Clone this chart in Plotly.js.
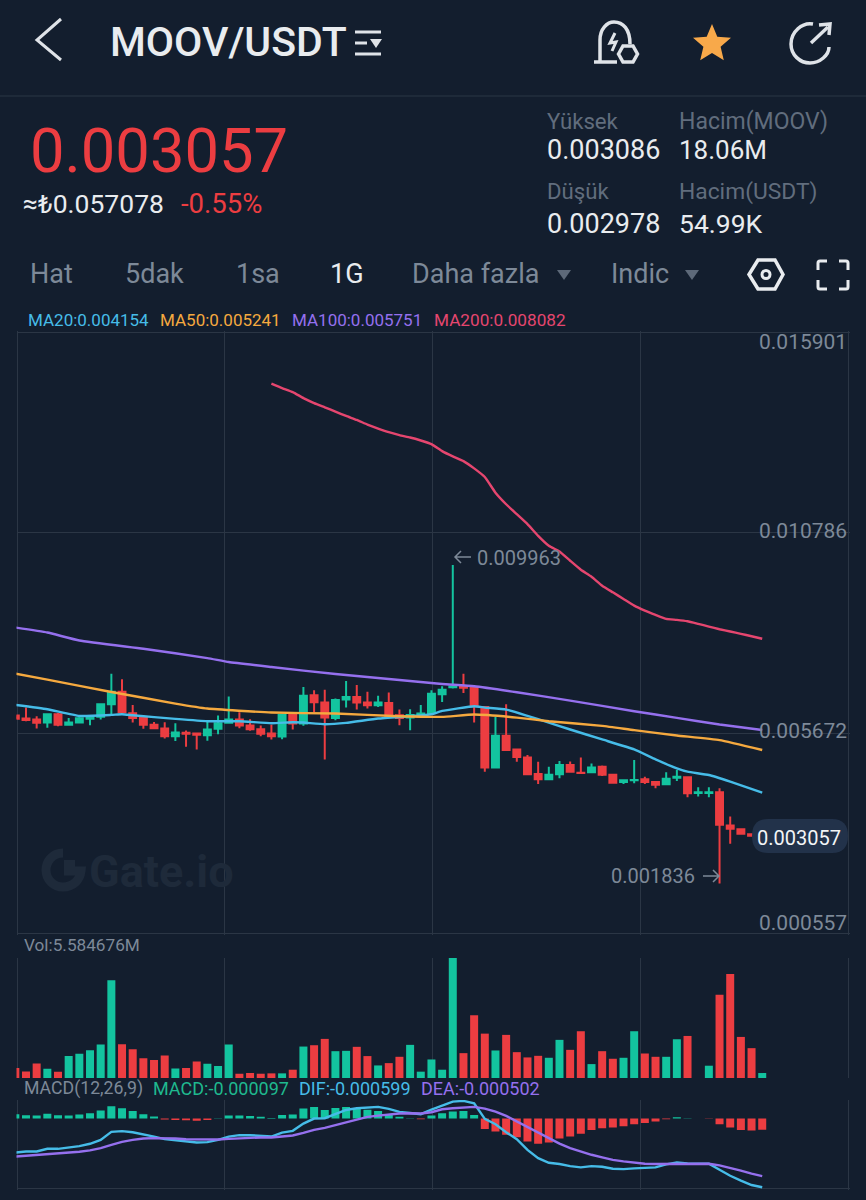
<!DOCTYPE html>
<html><head><meta charset="utf-8">
<script src="https://cdn.plot.ly/plotly-3.0.1.min.js"></script>
<style>html,body{margin:0;padding:0;background:#131e2e;overflow:hidden}#chart{width:866px;height:1200px}</style>
</head><body><div id="chart"></div>
<script>
// Prices are in millionths of a USDT, volumes in millions of MOOV.
const open = [6122,6045,6020,5943,6155,5884,5943,6037,6088,6410,6732,6181,6071,5884,5791,5596,5681,5664,5621,5782,5935,6020,5867,5774,5664,5587,6138,5918,6639,6452,6062,6529,6596,6452,6384,6444,6130,6071,6105,6189,6664,6842,6868,6834,6342,4798,5604,5256,5053,4629,4493,4620,4858,4663,4671,4815,4612,4425,4468,4493,4425,4366,4536,4544,4145,4145,4162,3315,3221,3094,3040];
const close = [6037,6011,5935,6155,5884,5943,6054,6096,6410,6732,6206,6062,5884,5799,5596,5689,5655,5630,5765,5926,6020,5867,5774,5655,5596,6138,5918,6630,6461,6071,6520,6596,6452,6384,6452,6113,6062,6138,6172,6681,6783,6860,6834,6359,4798,5604,5239,5061,4620,4493,4612,4858,4688,4655,4798,4612,4408,4468,4476,4425,4357,4510,4561,4137,4162,4162,3331,3230,3102,3052,3057];
const high = [6122,6325,6105,6155,6189,6062,6122,6122,6410,7190,7046,6393,6130,5960,5952,5926,5740,5672,5977,6122,6605,6206,6028,5867,5884,6138,6155,6851,6766,6783,6554,7003,6902,6732,6630,6707,6274,6283,6393,6766,6868,9963,7190,6834,6342,6087,6410,5256,5112,4943,4815,4960,4951,5053,4900,4849,4620,4493,4985,4561,4434,4671,4731,4561,4290,4290,4264,3543,3221,3094,3086];
const low = [6037,5977,5791,5808,5850,5859,5935,5876,6020,6155,6189,5943,5782,5782,5536,5469,5324,5257,5477,5647,5935,5799,5731,5596,5511,5519,5765,5859,6206,5002,6003,6325,6274,6300,6342,6071,5876,5748,6071,6172,6469,6810,6698,5943,4688,4798,5239,4943,4603,4374,4493,4519,4671,4646,4663,4578,4408,4374,4391,4374,4264,4366,4451,4035,4052,4035,1836,2848,3102,3052,3030];
const volume = [11.2,7.4,16.4,10.4,7.1,24.6,27.2,31.2,37.6,109.7,37.9,32.4,22.3,20.1,25.3,10.8,11.2,18.6,16.0,13.4,37.6,4.8,5.6,4.8,5.2,5.2,9.3,35.3,36.8,43.9,30.1,30.5,35.0,24.6,14.1,16.7,23.8,37.2,7.1,20.8,9.3,134.7,27.9,70.3,49.8,30.9,48.4,29.0,23.1,24.9,22.7,42.8,31.6,52.5,15.6,30.1,21.6,22.7,52.5,27.5,23.8,23.8,43.5,47.2,0,13.8,93.4,116.8,46.1,33.5,5.58];
const macdHist = [38,29,26,41,29,26,35,46,70,107,90,67,38,17,-9,-12,-15,-20,-12,2,26,26,23,15,6,32,35,87,102,75,93,102,87,78,67,38,15,3,-6,26,46,61,67,32,-90,-113,-142,-162,-200,-220,-209,-174,-157,-133,-99,-84,-78,-67,-49,-38,-26,-6,12,2,1,-1,-49,-78,-99,-104,-97];
const dif = [-296,-287,-287,-264,-264,-255,-241,-220,-186,-116,-110,-119,-136,-157,-180,-191,-200,-209,-206,-186,-157,-145,-145,-151,-157,-122,-107,-44,0,3,38,75,90,96,102,84,58,49,38,78,113,148,154,133,-3,-49,-119,-180,-273,-345,-386,-397,-415,-426,-415,-421,-438,-441,-435,-429,-426,-400,-383,-392,-394,-394,-447,-499,-542,-580,-599];
const dea = [-331,-325,-319,-310,-305,-296,-290,-278,-258,-229,-203,-186,-174,-171,-171,-174,-180,-183,-186,-183,-177,-171,-168,-165,-165,-157,-148,-125,-99,-81,-58,-35,-12,15,26,38,44,46,44,55,81,90,96,102,87,61,23,-26,-70,-119,-171,-218,-258,-290,-316,-339,-360,-374,-386,-394,-397,-397,-397,-394,-394,-394,-409,-429,-455,-481,-502];
const ma200Start = 24;
const ma200 = [14594,14482,14380,14227,14100,13991,13882,13770,13668,13551,13449,13355,13279,13220,13144,13050,12872,12737,12617,12431,12210,11811,11516,11261,11007,10709,10455,10310,10073,9844,9666,9437,9267,9099,8928,8801,8692,8590,8565,8529,8463,8394,8325,8267,8208,8147,8082];
const ma100At = [0,3,6,12,18,20,24,30,36,40,43,47,52,58,62,66,70];
const ma100 = [8369,8241,8038,7826,7589,7487,7360,7182,7029,6927,6868,6715,6503,6232,6062,5892,5751];
const ma50At = [0,3,9,15,18,24,30,36,40,43,47,50,55,58,62,66,70];
const ma50 = [7190,7037,6724,6427,6300,6198,6172,6105,6088,6147,6070,5977,5858,5748,5613,5494,5241];
const ma20At = [0,3,6,9,10,11,15,18,21,24,26,27,29,31,34,37,39,40,43,44,46,48,50,52,55,58,60,62,63,65,67,70];
const ma20 = [6393,6283,6113,6138,6155,6130,6037,5977,5977,5926,5952,5943,5901,5935,6045,6105,6155,6240,6359,6325,6274,6113,5943,5765,5511,5256,5002,4773,4688,4603,4434,4154];
const priceTicks = [15901,10786,5672,557];
const priceTickLabels = ['0.015901','0.010786','0.005672','0.000557'];

const UP = '#13c49f', DOWN = '#ec3d41', BG = '#131e2e', GRID = '#2b3645';
const BLUE = '#46bce8', ORANGE = '#f5a93f', PURPLE = '#9570ee', PINK = '#e5466f';
const GRAY = '#7d8998', DIM = '#616d7d', WHITE = '#e9ecef';
const W = 866, H = 1200;
const fx = p => p / W, fy = p => 1 - p / H;
const idx = open.map((_, i) => i);

function ln(name, x, y, color) {
  return {type:'scatter', mode:'lines', name, x, y, yaxis:'y', xaxis:'x', hoverinfo:'skip',
    line:{color, width:2.4, shape:'spline', smoothing:0.4}, showlegend:false};
}
const traces = [
  {type:'candlestick', name:'MOOV/USDT', x:idx, open, high, low, close, xaxis:'x', yaxis:'y', hoverinfo:'skip', showlegend:false,
   whiskerwidth:0,
   increasing:{line:{color:UP, width:2}, fillcolor:UP},
   decreasing:{line:{color:DOWN, width:2}, fillcolor:DOWN}},
  ln('MA20', ma20At, ma20, BLUE),
  ln('MA50', ma50At, ma50, ORANGE),
  ln('MA100', ma100At, ma100, PURPLE),
  ln('MA200', ma200.map((_, i) => i + ma200Start), ma200, PINK),
  {type:'bar', name:'Vol', x:idx, y:volume, xaxis:'x', yaxis:'y2', width:0.75, hoverinfo:'skip', showlegend:false,
   marker:{color:idx.map(i => close[i] >= open[i] ? UP : DOWN)}},
  {type:'bar', name:'MACD', x:idx, y:macdHist, xaxis:'x', yaxis:'y3', width:0.75, hoverinfo:'skip', showlegend:false,
   marker:{color:macdHist.map(v => v >= 0 ? UP : DOWN)}},
  {type:'scatter', mode:'lines', name:'DIF', x:idx, y:dif, xaxis:'x', yaxis:'y3', hoverinfo:'skip', showlegend:false, line:{color:BLUE, width:2.4}},
  {type:'scatter', mode:'lines', name:'DEA', x:idx, y:dea, xaxis:'x', yaxis:'y3', hoverinfo:'skip', showlegend:false, line:{color:PURPLE, width:2.4}}
];

const FONT = 'Roboto, "Noto Sans", sans-serif';
const T = (text, x, y, size, color, anchor='left', weight=400) => ({
  text, x:fx(x), y:fy(y), xref:'paper', yref:'paper', xanchor:anchor, yanchor:'middle',
  showarrow:false, borderpad:0, font:{family:FONT, size, color, weight}});

const annotations = [
  T('MOOV/USDT', 109, 42, 41, WHITE, 'left', 500),
  T('0.003057', 28.5, 151, 61.5, DOWN),
  T('≈₺0.057078', 22, 203, 26.5, WHITE),
  T('-0.55%', 180, 203, 27.5, DOWN),
  T('Yüksek', 546, 121, 22.2, DIM),
  T('0.003086', 546, 150, 27, WHITE),
  T('Hacim(MOOV)', 677.5, 121, 23, DIM),
  T('18.06M', 677.5, 150, 26, WHITE),
  T('Düşük', 546, 191, 22.2, DIM),
  T('0.002978', 546, 224, 27, WHITE),
  T('Hacim(USDT)', 677.5, 191, 22.8, DIM),
  T('54.99K', 677.5, 224, 26.5, WHITE),
  T('Hat', 28.5, 274, 27, GRAY),
  T('5dak', 123.5, 274, 27, GRAY),
  T('1sa', 234.5, 274, 27, GRAY),
  T('1G', 328.5, 274, 27, WHITE),
  T('Daha fazla', 410.5, 274, 27, GRAY),
  T('Indic', 609.5, 274, 27, GRAY),
  T('MA20:0.004154', 27, 320, 17, BLUE),
  T('MA50:0.005241', 159, 320, 17, ORANGE),
  T('MA100:0.005751', 291, 320, 17, PURPLE),
  T('MA200:0.008082', 433, 320, 17.2, PINK),
  T(priceTickLabels[0], 848, 342, 21, GRAY, 'right'),
  T(priceTickLabels[1], 848, 531, 21, GRAY, 'right'),
  T(priceTickLabels[2], 848, 731, 21, GRAY, 'right'),
  T(priceTickLabels[3], 848, 923, 21, GRAY, 'right'),
  T('0.009963', 476, 558, 20, GRAY),
  T('0.001836', 696, 876, 20, GRAY, 'right'),
  T('0.003057', 799, 838, 20, '#f3f5f7', 'center'),
  T('Gate.io', 88, 871, 45, '#1e2a3a', 'left', 700),
  T('Vol:5.584676M', 23, 945, 17.2, GRAY),
  T('MACD(12,26,9)', 23, 1088, 17.7, GRAY),
  T('MACD:-0.000097', 152, 1088, 18, '#1fb98f'),
  T('DIF:-0.000599', 298, 1088, 18, BLUE),
  T('DEA:-0.000502', 420, 1088, 18, PURPLE)
];

function path(d) { // px path string -> paper path string
  return d.replace(/([MLCQZ])([^MLCQZ]*)/g, (m, c, a) => {
    const n = a.trim().split(/[\s,]+/).filter(Boolean).map(Number);
    return c + n.map((v, i) => i % 2 ? fy(v) : fx(v)).join(' ');
  });
}
const S = (d, color=WHITE, width=3) => ({type:'path', xref:'paper', yref:'paper', path:path(d), line:{color, width}});
const F = (d, color) => ({type:'path', xref:'paper', yref:'paper', path:path(d), fillcolor:color, line:{color, width:0}});
const ICON = '#dfe3e8';
const shapes = [
  S('M0 96 L866 96', GRID, 1),
  S('M61 19 L37 40 L61 60', ICON, 3),
  S('M355 32 L381 32', ICON, 3), S('M355 43 L367 43', ICON, 3), S('M355 54 L381 54', ICON, 3),
  F('M370 39 L382 39 L376 48 Z', ICON),
  S('M594 62 L617 62', ICON, 3.5),
  S('M600 62 L600 40 C600 29 607 22 614 22 C623 22 630 29 630 44', ICON, 3.5),
  S('M615 33 L610 43 L616 42 L612 51', ICON, 3),
  {type:'path', xref:'paper', yref:'paper', path:path('M618.5 54 L623 46 L633 46 L637.5 54 L633 62 L623 62 Z'), fillcolor:BG, line:{color:ICON, width:3.5}},
  F('M712 24 L717.3 36.7 L731 37.8 L720.6 46.8 L723.8 60.2 L712 53 L700.2 60.2 L703.4 46.8 L693 37.8 L706.7 36.7 Z', '#f8a94a'),
  S('M813 24 C802 22 791 32 791 44 C791 55 800 63 810 63 C820 63 829 55 829 47', ICON, 3.5),
  S('M811 43 L828 27', ICON, 3.5), S('M819 25 L830 24 L829 35', ICON, 3.5),
  F('M557 270 L571 270 L564 280 Z', '#5d6979'),
  F('M685 270 L699 270 L692 280 Z', '#5d6979'),
  S('M749 274.5 L758 260 L775 260 L783 274.5 L775 289 L758 289 Z', WHITE, 3.5),
  {type:'circle', xref:'paper', yref:'paper', x0:fx(762), x1:fx(770), y0:fy(270.5), y1:fy(278.5), line:{color:WHITE, width:3}},
  S('M818 270 L818 263 Q818 261 820 261 L827 261', WHITE, 3),
  S('M839 261 L846 261 Q848 261 848 263 L848 270', WHITE, 3),
  S('M848 280 L848 287 Q848 289 846 289 L839 289', WHITE, 3),
  S('M827 289 L820 289 Q818 289 818 287 L818 280', WHITE, 3),
  S('M471 557 L455 557 M461 551 L455 557 L461 563', GRAY, 1.5),
  S('M703 876 L719 876 M713 870 L719 876 L713 882', GRAY, 1.5),
  S('M63 853 C52 853 46 862 46 870 C46 880 54 887 63 887 C73 887 80 880 81 871 L64 871', '#1e2a3a', 9),
  F('M64 860 L75 860 L75 870 L64 870 Z', '#1e2a3a'),
  F('M768 819 L832 819 Q848 819 848 836 Q848 853 832 853 L768 853 Q752 853 752 836 Q752 819 768 819 Z', '#22324a')
];

// Grid lines sit just inside the plot area so Plotly does not drop them at the edges.
const vGrid = [0.25, 19.65, 39.1, 58.55, 78.04];
const layout = {
  width:W, height:H, margin:{l:0,r:0,t:0,b:0}, paper_bgcolor:BG, plot_bgcolor:'rgba(0,0,0,0)',
  showlegend:false, dragmode:false, bargap:0.25, boxgap:0.35, boxgroupgap:0, barmode:'overlay', hovermode:false,
  xaxis:{domain:[fx(16.5), fx(849.5)], range:[0.11, 78.18], anchor:'y', showticklabels:false, ticks:'', zeroline:false,
    tickmode:'array', tickvals:vGrid, showgrid:true, gridcolor:GRID, gridwidth:1, rangeslider:{visible:false}, fixedrange:true},
  yaxis:{domain:[fy(935), fy(331)], range:[519, 15939], tickmode:'array', tickvals:priceTicks, showticklabels:false, ticks:'',
    showgrid:true, gridcolor:GRID, gridwidth:1, zeroline:false, fixedrange:true},
  yaxis2:{domain:[fy(1078), fy(958)], range:[0, 134.7], showgrid:false, showticklabels:false, ticks:'', zeroline:false, fixedrange:true},
  yaxis3:{domain:[fy(1189.5), fy(1100)], range:[-619, 162], tickmode:'array', tickvals:[-606], showgrid:true, gridcolor:GRID, showticklabels:false, ticks:'', zeroline:false, fixedrange:true},
  annotations, shapes
};
Plotly.newPlot('chart', traces, layout, {displayModeBar:false, staticPlot:true});
</script>
</body></html>
